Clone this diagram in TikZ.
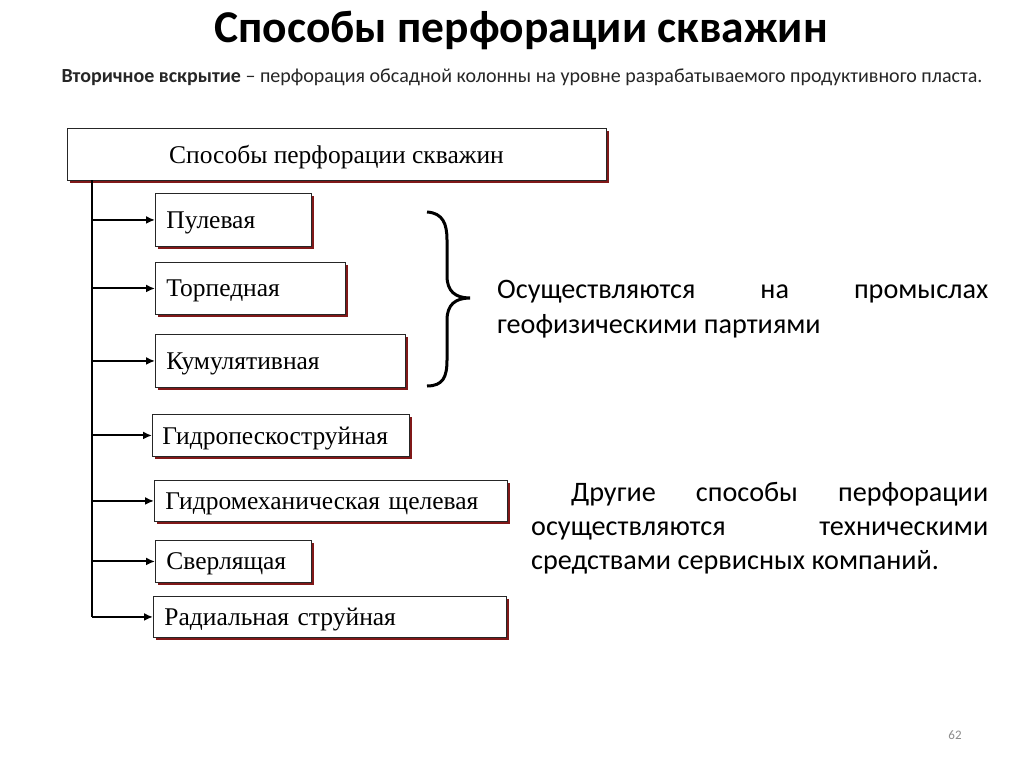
\documentclass[tikz,border=0pt]{standalone}
\usepackage{fontspec}
\setmainfont{Liberation Serif}
\newfontfamily\calfont{Carlito}
\usetikzlibrary{shadows,arrows.meta}
\definecolor{shadowred}{HTML}{801818}
\definecolor{pagegray}{HTML}{8C8C8C}
\tikzset{
  box/.style={draw=black!85, fill=white, line width=0.9pt, anchor=north west,
    inner xsep=11pt, inner ysep=0pt, align=left, text depth=0pt, font=\fontsize{25.5}{29}\selectfont,
    drop shadow={shadow xshift=3pt, shadow yshift=-3pt, fill=shadowred, opacity=1}},
  link/.style={line width=2pt},
  arr/.style={line width=2pt, -{Latex[length=9pt,width=8pt]}},
  bodytext/.style={font=\calfont\fontsize{28.2}{34}\selectfont, inner sep=0pt, anchor=base west},
}
\begin{document}
\begin{tikzpicture}[x=1pt,y=-1pt]
\useasboundingbox (0,0) rectangle (1024,767);
\fill[white] (0,0) rectangle (1024,767);

\node[font=\calfont\bfseries\fontsize{45.5}{52}\selectfont] (title) at (521,30) {Способы перфорации скважин};
\node[font=\calfont\fontsize{20}{24}\selectfont, text=black!85] (sub) at (522,77)
  {\textbf{Вторичное вскрытие} – перфорация обсадной колонны на уровне разрабатываемого продуктивного пласта.};

\node[box, anchor=center, minimum width=539pt, minimum height=52pt, align=center] (top) at (336.5,154) {Способы перфорации скважин};

\node[box, text width=134pt, minimum height=53pt] (b1) at (155,193) {Пулевая};
\node[box, text width=168pt, minimum height=52pt] (b2) at (155,262) {Торпедная};
\node[box, text width=228pt, minimum height=53pt] (b3) at (155,334) {Кумулятивная};
\node[box, text width=237pt, minimum height=42pt, inner xsep=10pt] (b4) at (152,414) {Гидропескоструйная};
\node[box, text width=331pt, minimum height=41pt] (b5) at (154,480) {Гидромеханическая щелевая};
\node[box, text width=134pt, minimum height=42pt] (b6) at (155,540) {Сверлящая};
\node[box, text width=331pt, minimum height=41pt] (b7) at (153,596) {Радиальная струйная};

\coordinate (trunk) at (92,617);
\draw[link] (top.south -| trunk) -- (trunk);
\draw[arr] (trunk |- b1.west) -- (b1.west);
\draw[arr] (trunk |- b2.west) -- (b2.west);
\draw[arr] (trunk |- b3.west) -- (b3.west);
\draw[arr] (trunk |- b4.west) -- (b4.west);
\draw[arr] (trunk |- b5.west) -- (b5.west);
\draw[arr] (trunk |- b6.west) -- (b6.west);
\draw[arr] (trunk |- b7.west) -- (b7.west);

\draw[line width=3pt] (427,212) .. controls (443,213) and (447,224) .. (447,240) -- (447,276)
  .. controls (447,291) and (455,298) .. (470,298)
  .. controls (455,298) and (447,305) .. (447,320) -- (447,360)
  .. controls (447,377) and (443,386) .. (427,386);

\node[bodytext] (t1a) at (497,298) {\hbox to 491pt{Осуществляются\hfill на\hfill промыслах}};
\node[bodytext] (t1b) at (497,333) {геофизическими партиями};

\node[bodytext] (t2a) at (531,501) {\hbox to 457pt{\hspace{40pt}Другие\hfill способы\hfill перфорации}};
\node[bodytext] (t2b) at (531,535) {\hbox to 457pt{осуществляются\hfill техническими}};
\node[bodytext] (t2c) at (531,569) {средствами сервисных компаний.};

\node[font=\calfont\fontsize{13}{15}\selectfont, text=pagegray] (pg) at (955,735) {62};
\end{tikzpicture}
\end{document}
